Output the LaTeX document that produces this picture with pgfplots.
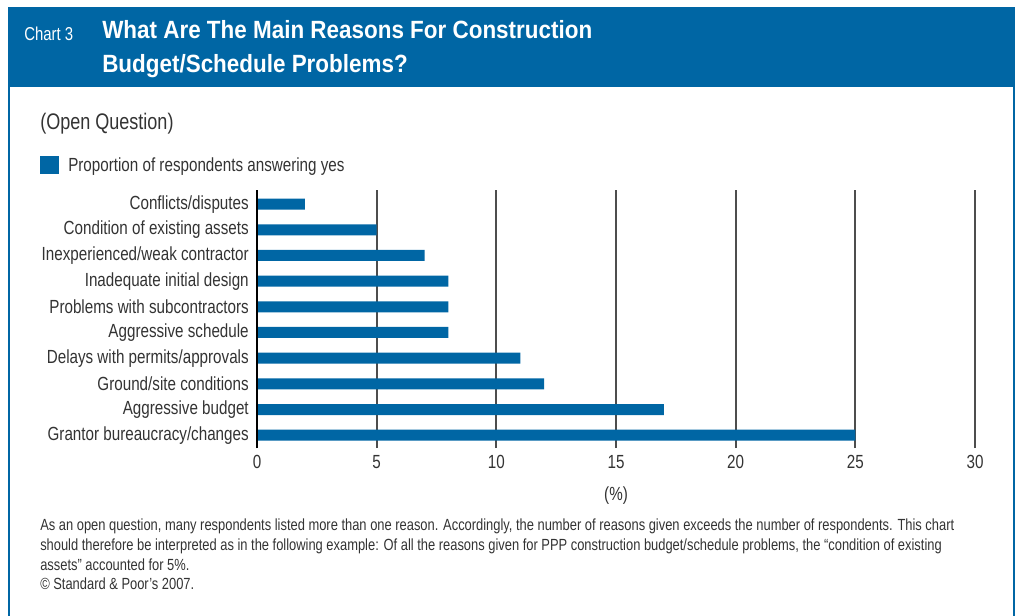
\documentclass[border=0pt]{standalone}
\usepackage{fontspec}
\setmainfont{Liberation Sans}[FakeStretch=0.8]
\newfontfamily\titlefont{Liberation Sans}[FakeStretch=0.9]
\usepackage{pgfplots}
\pgfplotsset{compat=1.18}
\definecolor{spblue}{HTML}{0066A4}
\definecolor{txt}{HTML}{333333}
\definecolor{gridc}{HTML}{4D4D4D}
\begin{document}
\begin{tikzpicture}
\begin{scope}[x=0.75pt,y=-0.75pt]
\path[use as bounding box] (0,0) rectangle (1016,615);
\fill[spblue] (8,7) rectangle (1015,87);
\draw[spblue, line width=1.5pt] (9,87) -- (9,616) (1014,87) -- (1014,616);
\node[anchor=base west, inner sep=0, text=white, font=\fontsize{14}{16}\selectfont] at (24,40) {Chart 3};
\node[anchor=base west, inner sep=0, text=white, font=\titlefont\bfseries\fontsize{18.7}{20}\selectfont] at (102,38) {What Are The Main Reasons For Construction};
\node[anchor=base west, inner sep=0, text=white, font=\titlefont\bfseries\fontsize{18.7}{20}\selectfont] at (102,72) {Budget/Schedule Problems?};
\node[anchor=base west, inner sep=0, text=txt, font=\fontsize{16.9}{20}\selectfont] at (40,129) {(Open Question)};
\fill[spblue] (40,156) rectangle (59,174);
\node[anchor=base west, inner sep=0, text=txt, font=\fontsize{14.25}{16}\selectfont] at (68,171) {Proportion of respondents answering yes};
\node[anchor=base, inner sep=0, text=txt, font=\fontsize{14.25}{16}\selectfont] at (616,500) {(\%)};
\begin{scope}[every node/.style={anchor=base west, inner sep=0, text=txt, font=\fontsize{12.1}{14}\selectfont}]
\node at (40,530) {As an open question, many respondents listed more than one reason. Accordingly, the number of reasons given exceeds the number of respondents. This chart};
\node at (40,550) {should therefore be interpreted as in the following example: Of all the reasons given for PPP construction budget/schedule problems, the “condition of existing};
\node at (40,570) {assets” accounted for 5\%.};
\node at (40,589) {© Standard \& Poor’s 2007.};
\end{scope}
\end{scope}
\begin{axis}[at={(192.75pt,-336pt)}, anchor=south west, scale only axis,
  width=538.5pt, height=193.5pt,
  xbar, xmin=0, xmax=30, ymin=-0.5, ymax=9.55,
  bar width=8.25pt,
  xtick={0,5,...,30}, ytick={0,...,9},
  yticklabels={Grantor bureaucracy/changes, Aggressive budget, Ground/site conditions, Delays with permits/approvals, Aggressive schedule, Problems with subcontractors, Inadequate initial design, Inexperienced/weak contractor, Condition of existing assets, Conflicts/disputes},
  xmajorgrids, major grid style={color=gridc, line width=1.3pt},
  axis line style={draw=none},
  major tick length=0pt,
  tick label style={font=\fontsize{14.25}{16}\selectfont, text=txt},
  /pgf/number format/assume math mode=true,
  xticklabel style={anchor=north, inner sep=0pt, yshift=-5.5pt},
  yticklabel style={anchor=east, inner sep=0pt, xshift=-6pt},
  clip=false,
]
\addplot[fill=spblue, draw=none] coordinates {(25,0) (17,1) (12,2) (11,3) (8,4) (8,5) (8,6) (7,7) (5,8) (2,9)};
\draw[black, line width=1.8pt] (axis cs:0,-0.5) -- (axis cs:0,9.55);
\end{axis}
\end{tikzpicture}
\end{document}
